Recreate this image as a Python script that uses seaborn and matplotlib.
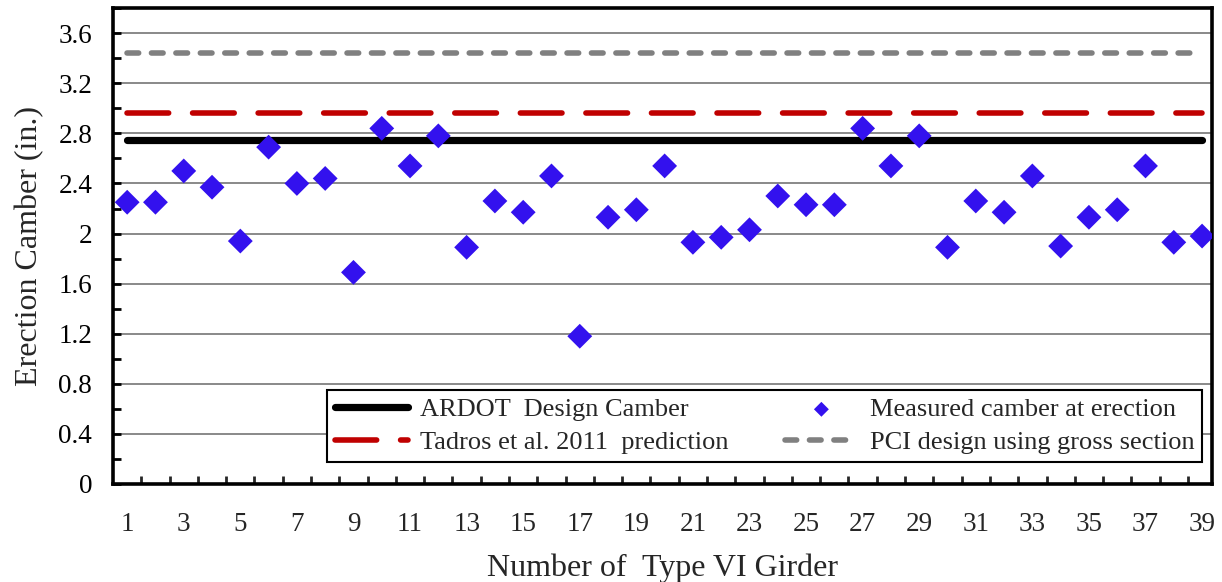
import numpy as np
import pandas as pd
import matplotlib
matplotlib.use("Agg")
import matplotlib.pyplot as plt
from matplotlib.ticker import MultipleLocator, FixedLocator, FuncFormatter
import seaborn as sns

# ---- data ----
girders = list(range(1, 40))
measured_camber = [2.25, 2.25, 2.50, 2.37, 1.94, 2.69, 2.40, 2.44, 1.69, 2.84,
                   2.54, 2.78, 1.89, 2.26, 2.17, 2.46, 1.18, 2.13, 2.19, 2.54,
                   1.93, 1.97, 2.03, 2.30, 2.23, 2.23, 2.84, 2.54, 2.78, 1.89,
                   2.26, 2.17, 2.46, 1.90, 2.13, 2.19, 2.54, 1.93, 1.98]
ardot_design = 2.75
tadros_2011 = 2.965
pci_gross = 3.445
x_tick_labels = [str(i) for i in range(1, 40, 2)]
y_ticks = [0, 0.4, 0.8, 1.2, 1.6, 2.0, 2.4, 2.8, 3.2, 3.6]

labels = ["ARDOT  Design Camber", "Tadros et al. 2011  prediction",
          "Measured camber at erection", "PCI design using gross section"]

sns.set_theme(style="white")
plt.rcParams['font.family'] = ['Liberation Serif', 'DejaVu Serif']

fig = plt.figure(figsize=(12.22, 5.82), dpi=100)
ax = fig.add_axes([0.0925, 0.1684, 0.8993, 0.8176])

df = pd.DataFrame({"girder": girders, "camber": measured_camber,
                   "ardot": [ardot_design] * len(girders),
                   "tadros": [tadros_2011] * len(girders),
                   "pci": [pci_gross] * len(girders)})

# gridlines
for yv in y_ticks[1:]:
    ax.axhline(yv, color="#808080", lw=1.3, zorder=0.5)

sns.lineplot(data=df, x="girder", y="pci", ax=ax, color="#808080", lw=4,
             linestyle=(0, (2.1, 2.3)), dash_capstyle="round", zorder=2)
l_pci = ax.lines[-1]
sns.lineplot(data=df, x="girder", y="tadros", ax=ax, color="#C00000", lw=4,
             linestyle=(0, (7.5, 4.3)), dash_capstyle="round", zorder=2)
l_tad = ax.lines[-1]
sns.lineplot(data=df, x="girder", y="ardot", ax=ax, color="black", lw=5.2,
             solid_capstyle="round", zorder=2)
l_ard = ax.lines[-1]
sns.scatterplot(data=df, x="girder", y="camber", ax=ax, marker="D", s=160,
                color="#3311EE", edgecolor="none", linewidth=0, zorder=3)
sc = ax.collections[-1]

ax.set_xlim(0.5, 39.35)
ax.set_ylim(0, 3.8)

ax.yaxis.set_major_locator(FixedLocator(y_ticks))
ax.yaxis.set_minor_locator(MultipleLocator(0.2))
ax.yaxis.set_major_formatter(FuncFormatter(lambda v, p: f"{v:g}"))
ax.xaxis.set_major_locator(FixedLocator(list(range(1, 40, 2))))
ax.set_xticklabels(x_tick_labels)
ax.xaxis.set_minor_locator(FixedLocator(list(np.arange(1.5, 39.5, 1.0))))

ax.tick_params(axis="y", which="both", direction="in", length=6, width=2,
               left=True, labelsize=19.5, pad=15, colors="black")
ax.tick_params(axis="x", which="major", length=0, labelsize=19.5, pad=20,
               bottom=True)
ax.tick_params(axis="x", which="minor", direction="in", length=6, width=2,
               bottom=True)
for s in ax.spines.values():
    s.set_visible(True)
    s.set_color("black")
    s.set_linewidth(2.6)

ax.set_xlabel("Number of  Type VI Girder", fontsize=23, labelpad=12)
ax.set_ylabel("Erection Camber (in.)", fontsize=23, labelpad=10)
ax.grid(False)

leg = ax.legend([l_ard, l_tad, sc, l_pci], labels, ncol=2, loc="lower left",
                bbox_to_anchor=(0.195, 0.046, 0.796, 0.156), mode="expand",
                fontsize=19, frameon=True, fancybox=False, framealpha=1,
                edgecolor="black", handlelength=2.75, handletextpad=0.45,
                borderpad=0.3, labelspacing=0.36, columnspacing=1.5,
                markerscale=0.6, borderaxespad=0)
leg.get_frame().set_linewidth(1.5)

fig.savefig("out.png", dpi=100)
